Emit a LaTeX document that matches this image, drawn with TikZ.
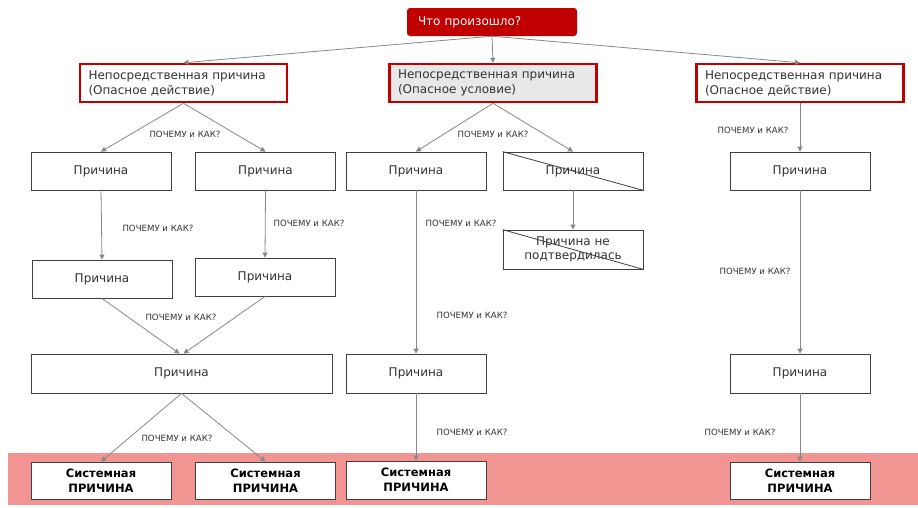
\documentclass[tikz,border=0pt]{standalone}
\usepackage{fontspec}
\setmainfont{DejaVu Sans}
\usetikzlibrary{arrows.meta}
\definecolor{redb}{RGB}{192,0,0}
\definecolor{band}{RGB}{241,148,146}
\definecolor{grayfill}{RGB}{232,232,232}
\definecolor{arr}{RGB}{135,135,135}
\definecolor{txt}{RGB}{51,51,51}
\begin{document}
\begin{tikzpicture}[x=1pt,y=-1pt,
 box/.style={draw=black!75, line width=0.8pt, fill=white, minimum width=140pt, minimum height=38pt, inner sep=0pt, font=\fontsize{12}{14}\selectfont, text=txt, align=center},
 redbox/.style={draw=redb, line width=2.5pt, fill=white, minimum width=207pt, minimum height=38pt, inner xsep=8pt, text width=190pt, align=left, font=\fontsize{12}{15}\selectfont, text=txt},
 sysbox/.style={box, font=\bfseries\fontsize{11.5}{15}\selectfont, text=black, minimum height=37pt},
 titlebox/.style={fill=redb, rounded corners=3pt, minimum width=170pt, minimum height=28pt, inner xsep=11pt, text width=148pt, align=left, font=\fontsize{12}{14}\selectfont, text=white},
 lbl/.style={font=\fontsize{8.6}{10}\selectfont, text=txt, inner sep=0pt},
 conn/.style={draw=arr, line width=0.8pt, -{Triangle[width=5pt,length=5pt]}},
 cross/.style={draw=black!75, line width=0.8pt},
]
\useasboundingbox (0,0) rectangle (918,507);
\fill[band] (8,453) rectangle (918,505);

\node[titlebox] (T) at (492,22) {Что произошло?};

\node[redbox] (A1) at (183.5,83) {Непосредственная причина\\(Опасное действие)};
\node[redbox, fill=grayfill] (A2) at (493,83) {Непосредственная причина\\(Опасное условие)};
\node[redbox] (A3) at (800,83) {Непосредственная причина\\(Опасное действие)};

\node[box] (B1) at (101,171) {Причина};
\node[box] (B2) at (265.5,171) {Причина};
\node[box] (B3) at (416,171) {Причина};
\node[box] (B4) at (573,171) {Причина};
\node[box] (B5) at (800,171) {Причина};

\node[box] (C1) at (102,279) {Причина};
\node[box] (C2) at (265,277) {Причина};
\node[box, minimum height=39pt] (C4) at (573,249.5) {Причина не\\подтвердилась};

\node[box, minimum width=301pt, minimum height=39pt] (D1) at (181.5,373.5) {Причина};
\node[box, minimum height=39pt] (D3) at (416,373.5) {Причина};
\node[box, minimum height=39pt] (D5) at (800,373.5) {Причина};

\node[sysbox] (E1) at (101,480.5) {Системная\\ПРИЧИНА};
\node[sysbox] (E2) at (265.5,480.5) {Системная\\ПРИЧИНА};
\node[sysbox, minimum height=38pt] (E3) at (416,480) {Системная\\ПРИЧИНА};
\node[sysbox] (E5) at (800,480.5) {Системная\\ПРИЧИНА};

\draw[cross] (B4.north west) -- (B4.south east);
\draw[cross] (C4.north west) -- (C4.south east);

\draw[conn] (T.south) -- (A1.north);
\draw[conn] (T.south) -- (A2.north);
\draw[conn] (T.south) -- (A3.north);

\draw[conn] (A1.south) -- (B1.north);
\draw[conn] (A1.south) -- (B2.north);
\draw[conn] (A2.south) -- (B3.north);
\draw[conn] (A2.south) -- (B4.north);
\draw[conn] (A3.south) -- (B5.north);

\draw[conn] (B1.south) -- (C1.north);
\draw[conn] (B2.south) -- (C2.north);
\draw[conn] (B4.south) -- (C4.north);
\draw[conn] (B3.south) -- (D3.north);
\draw[conn] (B5.south) -- (D5.north);

\draw[conn] (C1.south) -- ([xshift=-2pt]D1.north);
\draw[conn] (C2.south) -- ([xshift=2pt]D1.north);

\draw[conn] (D1.south) -- (E1.north);
\draw[conn] (D1.south) -- (E2.north);
\draw[conn] (D3.south) -- (E3.north);
\draw[conn] (D5.south) -- (E5.north);

\node[lbl] (L1) at (185,134) {ПОЧЕМУ и КАК?};
\node[lbl] (L2) at (493,134) {ПОЧЕМУ и КАК?};
\node[lbl] (L3) at (753,130) {ПОЧЕМУ и КАК?};
\node[lbl] (L4) at (158,228) {ПОЧЕМУ и КАК?};
\node[lbl] (L5) at (309,223) {ПОЧЕМУ и КАК?};
\node[lbl] (L6) at (461,223) {ПОЧЕМУ и КАК?};
\node[lbl] (L7) at (181,317) {ПОЧЕМУ и КАК?};
\node[lbl] (L8) at (472,315) {ПОЧЕМУ и КАК?};
\node[lbl] (L9) at (755,271) {ПОЧЕМУ и КАК?};
\node[lbl] (L10) at (177,438) {ПОЧЕМУ и КАК?};
\node[lbl] (L11) at (472,432) {ПОЧЕМУ и КАК?};
\node[lbl] (L12) at (740,432) {ПОЧЕМУ и КАК?};
\end{tikzpicture}
\end{document}
